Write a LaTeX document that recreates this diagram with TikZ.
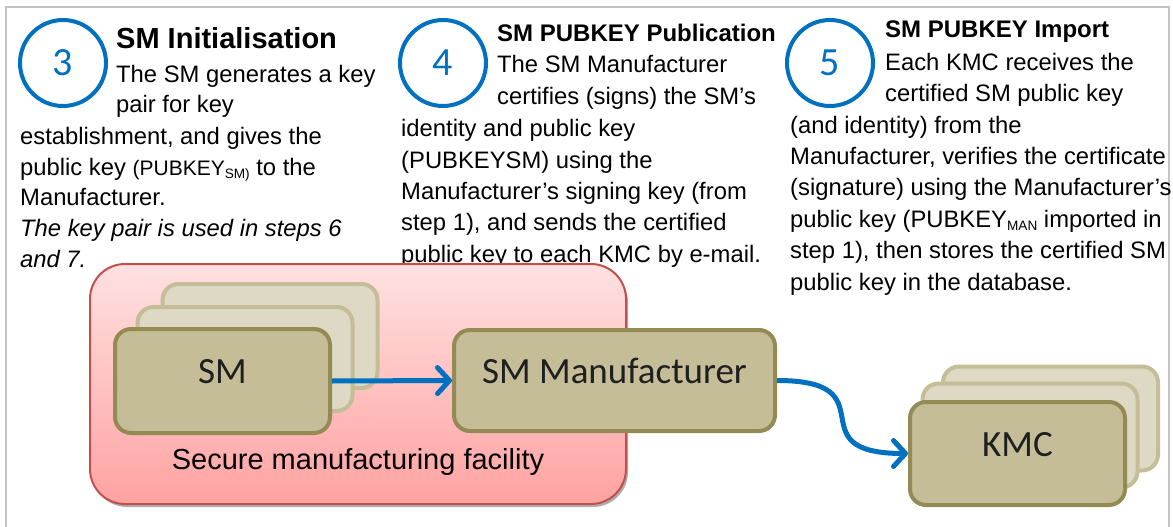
\documentclass[tikz,border=0pt]{standalone}
\usepackage{fontspec}
\setmainfont{Liberation Sans}
\newfontfamily\boxfont{Carlito}
\usepackage{xcolor}
\usetikzlibrary{arrows.meta,positioning,shadows}
\definecolor{stepblue}{RGB}{0,112,192}
\definecolor{unitfill}{RGB}{196,189,151}
\definecolor{unitline}{RGB}{148,138,84}
\definecolor{backfill}{RGB}{221,217,196}
\definecolor{facline}{RGB}{192,80,77}
\definecolor{factop}{RGB}{255,225,225}
\definecolor{facbot}{RGB}{255,162,162}
\definecolor{framegray}{RGB}{196,196,196}
\tikzset{
  badge/.style={circle,draw=stepblue,line width=4pt,text=stepblue,minimum size=86pt,
    inner sep=0pt,font=\boxfont\fontsize{40}{40}\selectfont},
  steptitle/.style={anchor=base west,inner sep=0pt,font=\bfseries\fontsize{24}{31}\selectfont},
  txt/.style={anchor=base west,inner sep=0pt,align=left,font=\fontsize{23.8}{31.3}\selectfont},
  devbox/.style={draw=unitline,fill=unitfill,line width=4pt,rounded corners=16pt,
    minimum width=215pt,minimum height=104pt,text=black!88,
    font=\boxfont\fontsize{37}{37}\selectfont,text height=23pt,text depth=18pt},
  devback/.style={devbox,draw=unitfill,fill=backfill},
  facility/.style={draw=facline,line width=2pt,rounded corners=35pt,top color=factop,
    bottom color=facbot,minimum width=536pt,minimum height=240pt,
    drop shadow={shadow xshift=2pt,shadow yshift=-3pt,fill=black!45,opacity=.7}},
  flow/.style={stepblue,line width=5pt,-{Straight Barb[length=12pt,width=26pt,round]}},
}
\newcommand{\lowtxt}[1]{\raisebox{-3pt}{\fontsize{13.6}{13.6}\selectfont #1}}

\begin{document}
\begin{tikzpicture}[x=1pt,y=-1pt]
  \useasboundingbox (0,0) rectangle (1173,527);
  \draw[framegray,line width=2pt] (6,540) -- (6,7) -- (1169,7) -- (1169,540);

  \node[badge] (c3) at (63,63) {3};
  \node[steptitle,font=\bfseries\fontsize{29}{31}\selectfont] (t3) at (116,49) {SM Initialisation};
  \node[txt,font=\fontsize{23.8}{30}\selectfont] (h3) at (116,113) {The SM generates a key\\pair for key};
  \node[txt,font=\fontsize{23.8}{30.6}\selectfont] (b3) at (20,267) {establishment, and gives the\\
    public key {\fontsize{21}{31}\selectfont(PUBKEY\lowtxt{SM)}} to the\\
    Manufacturer.\\
    \textit{The key pair is used in steps 6}\\
    \textit{and 7.}};

  \node[badge] (c4) at (443,63) {4};
  \node[steptitle] (t4) at (497,42) {SM PUBKEY Publication};
  \node[txt] (h4) at (497,104) {The SM Manufacturer\\certifies (signs) the SM’s};
  \node[txt] (b4) at (401,262) {identity and public key\\
    (PUBKEYSM) using the\\
    Manufacturer’s signing key (from\\
    step 1), and sends the certified\\
    public key to each KMC by e-mail.};

  \node[badge] (c5) at (830,63) {5};
  \node[steptitle] (t5) at (885,38) {SM PUBKEY Import};
  \node[txt,font=\fontsize{23.8}{32}\selectfont] (h5) at (885,102) {Each KMC receives the\\certified SM public key};
  \node[txt,font=\fontsize{23.8}{31.4}\selectfont] (b5) at (790,290) {(and identity) from the\\
    Manufacturer, verifies the certificate\\
    (signature) using the Manufacturer’s\\
    public key (PUBKEY\lowtxt{MAN} imported in\\
    step 1), then stores the certified SM\\
    public key in the database.};

  \node[facility] (fac) at (358,384) {};
  \node[anchor=base,inner sep=0pt,font=\fontsize{29}{29}\selectfont] (faclabel) at (358,469)
    {Secure manufacturing facility};

  \node[devback] (sm3) at (270,336) {};
  \node[devback] (sm2) at (245,359) {};
  \node[devbox] (sm) at (222.5,381) {SM};
  \node[devbox,minimum width=321pt,minimum height=101pt] (man) at (614.5,380.5) {SM Manufacturer};
  \node[devback] (kmc3) at (1050.5,418.5) {};
  \node[devback] (kmc2) at (1030,435.5) {};
  \node[devbox,minimum height=103pt] (kmc) at (1017.5,453.5) {KMC};

  \draw[flow] (sm.east) -- (man.west);
  \draw[flow] (man.east) .. controls +(115,0) and +(-115,0) .. (kmc.west);
\end{tikzpicture}
\end{document}
